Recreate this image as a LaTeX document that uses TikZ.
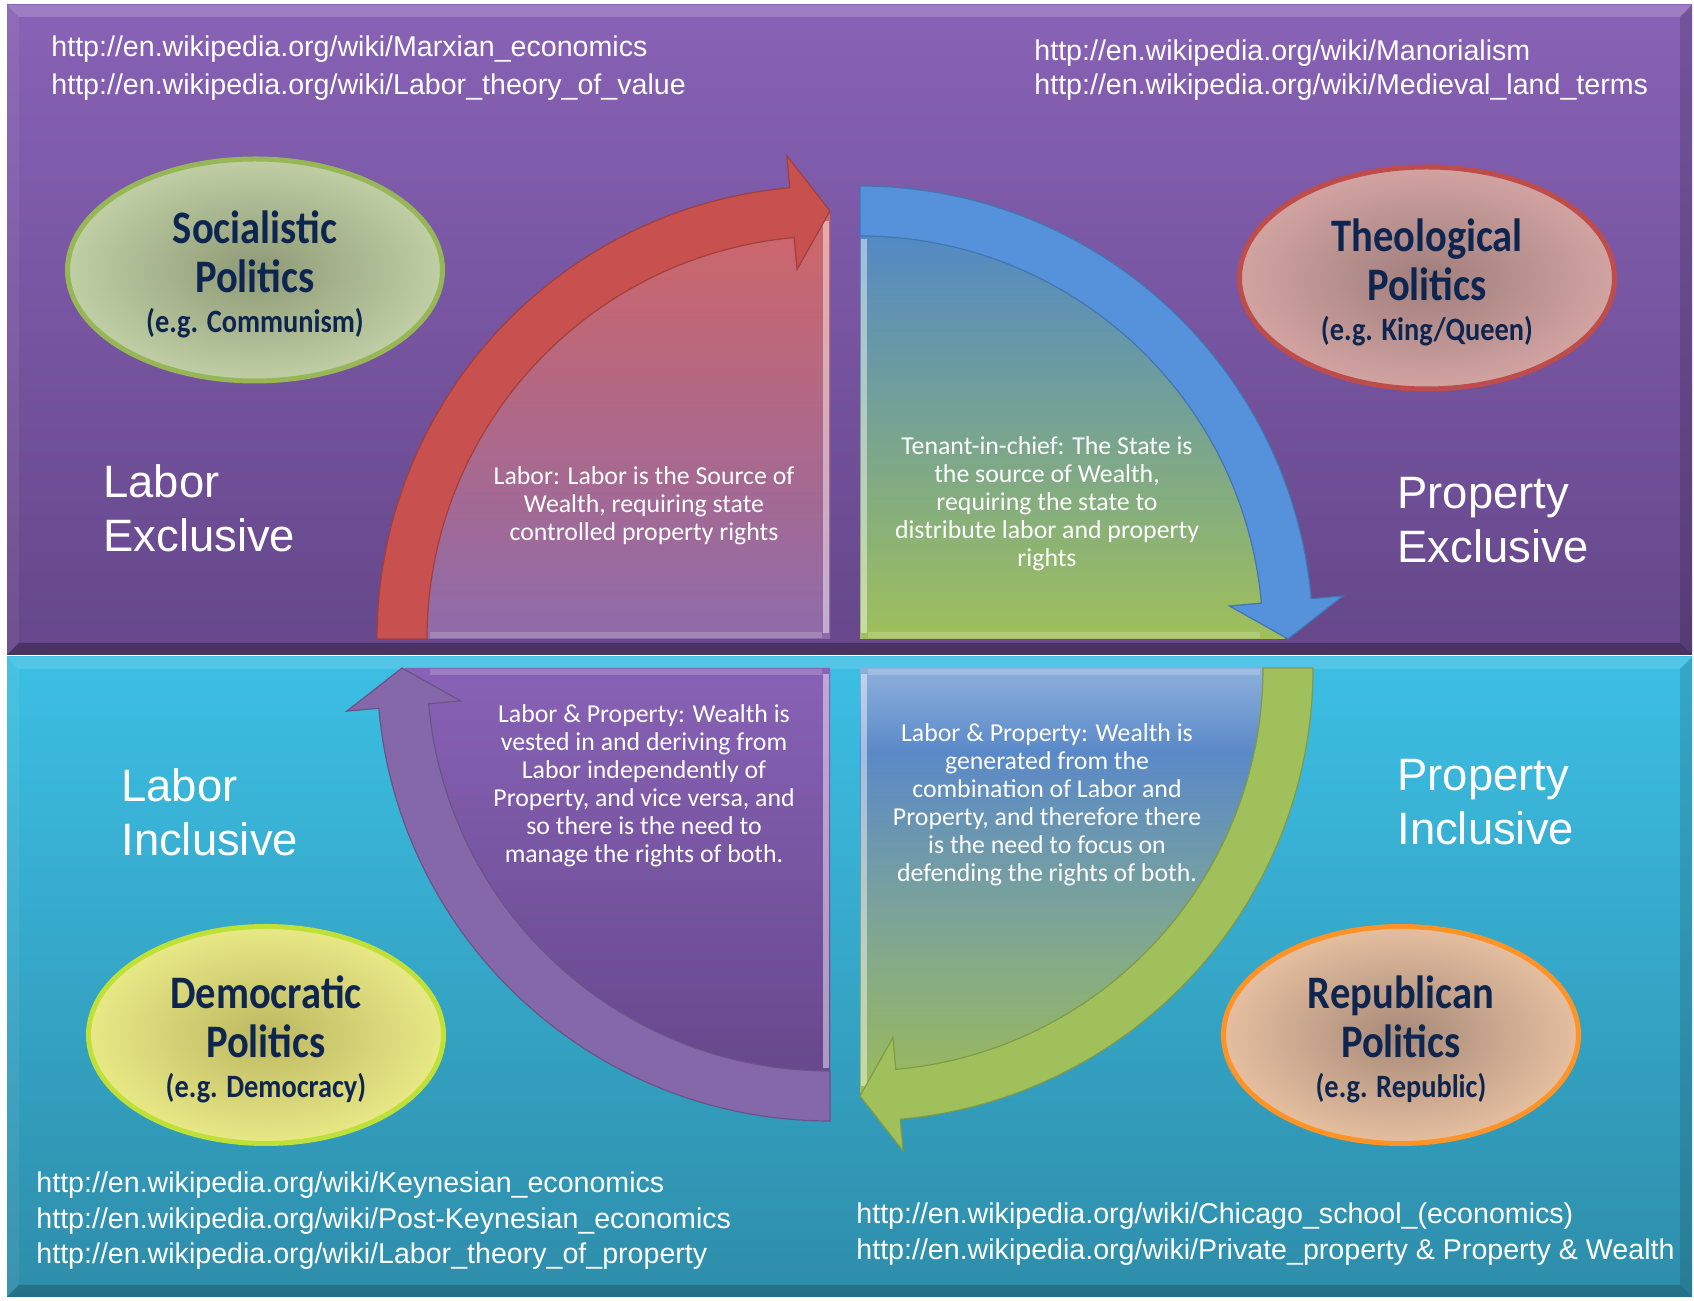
\documentclass[tikz,border=0pt]{standalone}
\usepackage{fontspec}
\newfontfamily\arialfont{Liberation Sans}
\newfontfamily\calibrifont{Carlito}
\newfontfamily\calibritall[FakeStretch=0.87]{Carlito}
\usetikzlibrary{calc,shapes.geometric}

\definecolor{purpleTop}{HTML}{8862B6}
\definecolor{purpleBot}{HTML}{65478A}
\definecolor{cyanTop}{HTML}{3CBFE4}
\definecolor{cyanBot}{HTML}{2E8DAA}
\definecolor{redband}{HTML}{C8504E}
\definecolor{blueband}{HTML}{5592DB}
\definecolor{greenband}{HTML}{9FC05A}
\definecolor{violetband}{HTML}{8468AA}
\definecolor{navytext}{HTML}{0E2550}
\definecolor{tlTop}{HTML}{CF6668}
\definecolor{tlBot}{HTML}{8E6BAA}
\definecolor{brTop}{HTML}{8DB0DC}
\definecolor{brBlue}{HTML}{5A89C8}
\definecolor{brTeal}{HTML}{7DA596}
\definecolor{brBot}{HTML}{9BBB59}
\definecolor{socin}{HTML}{8E9A76}
\definecolor{socout}{HTML}{CAD9AE}
\definecolor{theoin}{HTML}{A07E7C}
\definecolor{theoout}{HTML}{DBABA9}
\definecolor{demin}{HTML}{BCB861}
\definecolor{demout}{HTML}{F2F28E}
\definecolor{repin}{HTML}{A88A7A}
\definecolor{repout}{HTML}{F1C9A6}
\pgfdeclareradialshading{socglow}{\pgfpoint{0bp}{0bp}}{color(0bp)=(socin); color(30bp)=(socout); color(50bp)=(socout)}
\pgfdeclareradialshading{theoglow}{\pgfpoint{0bp}{0bp}}{color(0bp)=(theoin); color(30bp)=(theoout); color(50bp)=(theoout)}
\pgfdeclareradialshading{demglow}{\pgfpoint{0bp}{0bp}}{color(0bp)=(demin); color(30bp)=(demout); color(50bp)=(demout)}
\pgfdeclareradialshading{repglow}{\pgfpoint{0bp}{0bp}}{color(0bp)=(repin); color(30bp)=(repout); color(50bp)=(repout)}
\pgfdeclareverticalshading{brfade}{100bp}{color(0bp)=(brBot); color(25bp)=(brBot); color(45bp)=(brTeal); color(65bp)=(brBlue); color(75bp)=(brTop); color(100bp)=(brTop)}

\begin{document}
\begin{tikzpicture}[x=0.5pt, y=0.5pt,
  urltext/.style={font=\arialfont\fontsize{14.3}{17.7}\selectfont, text=white, align=left, anchor=west, inner sep=0pt},
  bigtext/.style={font=\arialfont\fontsize{22.7}{27}\selectfont, text=white, align=left, anchor=west, inner sep=0pt},
  quadtext/.style={font=\calibrifont\fontsize{12.9}{14}\selectfont, text=white, align=center, inner sep=0pt},
  polell/.style={ellipse, line width=2.5pt, inner sep=0pt},
  polname/.style={font=\calibritall\bfseries\fontsize{23.3}{24.3}\selectfont, text=navytext, align=center, inner sep=0pt},
  band/.style={line width=0.6pt, line join=miter},
  hilite/.style={white, line width=3pt, opacity=0.45},
  lowlite/.style={white, line width=3pt, opacity=0.18}]
\useasboundingbox (0,0) rectangle (1694,1301);
\fill[white] (0,0) rectangle (1694,1301);

% the two panels
\shade[top color=purpleTop, bottom color=purpleBot] (7,646) rectangle (1692,1296);
\shade[top color=cyanTop, bottom color=cyanBot] (7,4) rectangle (1692,644);
% bevels
\fill[white, opacity=0.18] (7,1296) -- (1692,1296) -- (1680,1284) -- (19,1284) -- cycle;
\fill[white, opacity=0.06] (7,646) -- (7,1296) -- (19,1284) -- (19,658) -- cycle;
\fill[black, opacity=0.28] (7,646) -- (1692,646) -- (1680,658) -- (19,658) -- cycle;
\fill[black, opacity=0.15] (1692,646) -- (1692,1296) -- (1680,1284) -- (1680,658) -- cycle;
\fill[white, opacity=0.12] (7,644) -- (1692,644) -- (1680,632) -- (19,632) -- cycle;
\fill[white, opacity=0.06] (7,4) -- (7,644) -- (19,632) -- (19,16) -- cycle;
\fill[black, opacity=0.2] (7,4) -- (1692,4) -- (1680,16) -- (19,16) -- cycle;
\fill[black, opacity=0.12] (1692,4) -- (1692,644) -- (1680,632) -- (1680,16) -- cycle;

\coordinate (cTL) at (830,662);
\coordinate (cTR) at (860,662);
\coordinate (cBL) at (830,633);
\coordinate (cBR) at (860,633);

% quarter fills
\shade[top color=tlTop, bottom color=tlBot]
  (cTL) -- ++(-425,0) arc[start angle=180, end angle=90, radius=425] -- cycle;
\shade[top color=blueband!92!black, bottom color=greenband]
  (cTR) -- ++(0,425) arc[start angle=90, end angle=0, radius=425] -- cycle;
\shade[top color=purpleTop, bottom color=purpleBot]
  (cBL) -- ++(0,-425) arc[start angle=270, end angle=180, radius=425] -- cycle;
\shade[shading=brfade]
  (cBR) -- ++(425,0) arc[start angle=0, end angle=-90, radius=425] -- cycle;

% bevel lights on the straight edges
\draw[hilite] ($(cTL)+(-4,6)$) -- ($(cTL)+(-4,418)$);
\draw[lowlite] ($(cTL)+(-8,4)$) -- ($(cTL)+(-400,4)$);
\draw[hilite] ($(cTR)+(4,6)$) -- ($(cTR)+(4,400)$);
\draw[lowlite] ($(cTR)+(8,4)$) -- ($(cTR)+(400,4)$);
\draw[hilite] ($(cBL)+(-4,-6)$) -- ($(cBL)+(-4,-400)$);
\draw[lowlite] ($(cBL)+(-8,-4)$) -- ($(cBL)+(-400,-4)$);
\draw[hilite] ($(cBR)+(4,-6)$) -- ($(cBR)+(4,-418)$);
\draw[lowlite] ($(cBR)+(8,-4)$) -- ($(cBR)+(400,-4)$);

% circular arrows
\filldraw[band, fill=redband, draw=redband!80!black]
  ($(cTL)+(180:453)$) arc[start angle=180, end angle=95.1, radius=453]
  -- ($(cTL)+(95.1:485)$) -- ($(cTL)+(90:428)$) -- ($(cTL)+(95.1:371)$)
  -- ($(cTL)+(95.1:403)$) arc[start angle=95.1, end angle=180, radius=403] -- cycle;
\filldraw[band, fill=blueband, draw=blueband!80!black]
  ($(cTR)+(90:453)$) arc[start angle=90, end angle=5.1, radius=453]
  -- ($(cTR)+(5.1:485)$) -- ($(cTR)+(0:428)$) -- ($(cTR)+(5.1:371)$)
  -- ($(cTR)+(5.1:403)$) arc[start angle=5.1, end angle=90, radius=403] -- cycle;
\filldraw[band, fill=greenband, draw=greenband!80!black]
  ($(cBR)+(0:453)$) arc[start angle=0, end angle=-84.9, radius=453]
  -- ($(cBR)+(-84.9:485)$) -- ($(cBR)+(-90:428)$) -- ($(cBR)+(-84.9:371)$)
  -- ($(cBR)+(-84.9:403)$) arc[start angle=-84.9, end angle=0, radius=403] -- cycle;
\filldraw[band, fill=violetband, draw=violetband!80!black]
  ($(cBL)+(270:453)$) arc[start angle=270, end angle=185.1, radius=453]
  -- ($(cBL)+(185.1:485)$) -- ($(cBL)+(180:428)$) -- ($(cBL)+(185.1:371)$)
  -- ($(cBL)+(185.1:403)$) arc[start angle=185.1, end angle=270, radius=403] -- cycle;

% the four politics
\node[polell, draw=greenband!95!black, shading=socglow, minimum width=187.5pt, minimum height=111pt] (soc) at (255,1031) {};
\node[polell, draw=redband!95!black, shading=theoglow, minimum width=187.5pt, minimum height=111pt] (theo) at (1427,1023) {};
\node[polell, draw=yellow!70!green!85!white, shading=demglow, minimum width=177.5pt, minimum height=108.5pt] (dem) at (266,266) {};
\node[polell, draw=orange!85!white, shading=repglow, minimum width=177.5pt, minimum height=108.5pt] (rep) at (1401,266) {};

\node[polname] (socTxt) at ([yshift=-2.3pt]soc.center) {Socialistic\\Politics\\[-4.3pt]{\fontsize{16.3}{17}\selectfont(e.g. Communism)}};
\node[polname] (theoTxt) at ([yshift=-2.3pt]theo.center) {Theological\\Politics\\[-4.3pt]{\fontsize{16.3}{17}\selectfont(e.g. King/Queen)}};
\node[polname] (demTxt) at ([yshift=-2.3pt]dem.center) {Democratic\\Politics\\[-4.3pt]{\fontsize{16.3}{17}\selectfont(e.g. Democracy)}};
\node[polname] (repTxt) at ([yshift=-2.3pt]rep.center) {Republican\\Politics\\[-4.3pt]{\fontsize{16.3}{17}\selectfont(e.g. Republic)}};

% big labels
\node[bigtext] (labEx) at (103,793) {Labor\\Exclusive};
\node[bigtext] (propEx) at (1397,781) {Property\\Exclusive};
\node[bigtext] (labIn) at (121,489) {Labor\\Inclusive};
\node[bigtext] (propIn) at (1397,499) {Property\\Inclusive};

% quadrant texts
\node[quadtext] (qTL) at (644,795) {Labor: Labor is the Source of\\Wealth, requiring state\\controlled property rights};
\node[quadtext] (qTR) at (1047,797) {Tenant-in-chief: The State is\\the source of Wealth,\\requiring the state to\\distribute labor and property\\rights};
\node[quadtext] (qBL) at (644,515) {Labor \& Property: Wealth is\\vested in and deriving from\\Labor independently of\\Property, and vice versa, and\\so there is the need to\\manage the rights of both.};
\node[quadtext] (qBR) at (1047,496) {Labor \& Property: Wealth is\\generated from the\\combination of Labor and\\Property, and therefore there\\is the need to focus on\\defending the rights of both.};

% links
\node[urltext] (urlTL) at (51,1233) {http://en.wikipedia.org/wiki/Marxian\_economics\\[1.2pt]http://en.wikipedia.org/wiki/Labor\_theory\_of\_value};
\node[urltext] (urlTR) at (1034,1231) {http://en.wikipedia.org/wiki/Manorialism\\[-1pt]http://en.wikipedia.org/wiki/Medieval\_land\_terms};
\node[urltext] (urlBL) at (36,80) {http://en.wikipedia.org/wiki/Keynesian\_economics\\http://en.wikipedia.org/wiki/Post-Keynesian\_economics\\http://en.wikipedia.org/wiki/Labor\_theory\_of\_property};
\node[urltext] (urlBR) at (856,67) {http://en.wikipedia.org/wiki/Chicago\_school\_(economics)\\http://en.wikipedia.org/wiki/Private\_property \& Property \& Wealth};
\end{tikzpicture}
\end{document}
